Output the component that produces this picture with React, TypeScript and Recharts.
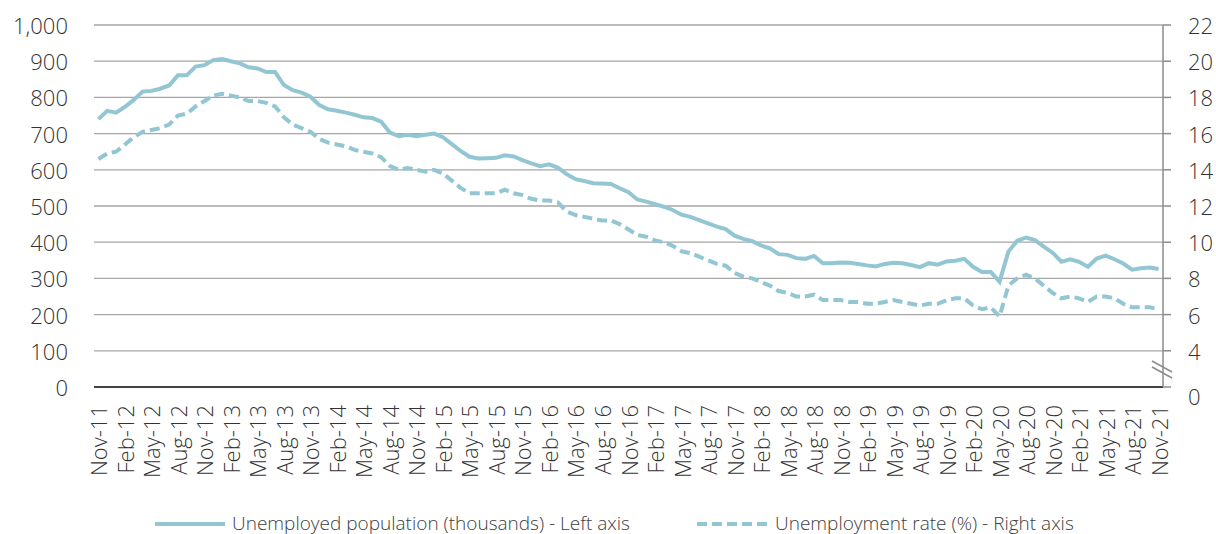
import React from "react";
import { LineChart, Line, XAxis, YAxis, CartesianGrid, Legend } from "recharts";

const MONTH_NAMES = ["Jan", "Feb", "Mar", "Apr", "May", "Jun", "Jul", "Aug", "Sep", "Oct", "Nov", "Dec"];
const START_YEAR = 2011;
const START_MONTH = 10; // Nov
const MONTH_COUNT = 121;

const CATEGORIES: string[] = Array.from({ length: MONTH_COUNT }, (_, i) => {
  const m = (START_MONTH + i) % 12;
  const y = START_YEAR + Math.floor((START_MONTH + i) / 12);
  return `${MONTH_NAMES[m]}-${String(y % 100).padStart(2, "0")}`;
});

const UNEMPLOYED_THOUSANDS: number[] = [
  740, 763, 758, 774, 793, 816, 818, 824, 833, 861,
  861, 885, 889, 903, 906, 900, 894, 883, 880, 870,
  870, 834, 820, 813, 802, 779, 767, 763, 758, 752,
  745, 743, 733, 703, 693, 697, 693, 697, 700, 690,
  671, 652, 636, 631, 632, 633, 640, 637, 627, 618,
  610, 615, 606, 588, 574, 569, 563, 562, 561, 549,
  538, 518, 512, 505, 498, 489, 476, 470, 461, 452,
  443, 436, 418, 409, 403, 391, 383, 367, 365, 356,
  354, 362, 342, 342, 344, 343, 340, 336, 333, 340,
  343, 342, 337, 331, 342, 338, 347, 349, 354, 332,
  318, 318, 291, 374, 404, 413, 406, 388, 371, 346,
  353, 346, 332, 355, 363, 353, 341, 324, 328, 330,
  326,
];

const UNEMPLOYMENT_RATE: number[] = [
  14.6, 14.9, 15.0, 15.4, 15.8, 16.1, 16.2, 16.3, 16.5, 17.0,
  17.1, 17.5, 17.8, 18.1, 18.2, 18.1, 18.0, 17.8, 17.8, 17.7,
  17.5, 16.9, 16.5, 16.3, 16.1, 15.7, 15.5, 15.4, 15.3, 15.1,
  15.0, 14.9, 14.7, 14.2, 14.0, 14.1, 14.0, 13.9, 14.0, 13.8,
  13.4, 13.0, 12.7, 12.7, 12.7, 12.7, 12.9, 12.7, 12.6, 12.4,
  12.3, 12.3, 12.2, 11.7, 11.5, 11.4, 11.3, 11.2, 11.2, 11.0,
  10.7, 10.4, 10.3, 10.1, 10.0, 9.8, 9.5, 9.4, 9.2, 9.0,
  8.8, 8.7, 8.3, 8.1, 8.0, 7.8, 7.6, 7.3, 7.2, 7.0,
  7.0, 7.1, 6.8, 6.8, 6.8, 6.7, 6.7, 6.6, 6.6, 6.7,
  6.8, 6.7, 6.6, 6.5, 6.6, 6.6, 6.8, 6.9, 6.9, 6.5,
  6.3, 6.4, 5.9, 7.6, 8.0, 8.2, 8.0, 7.6, 7.2, 6.9,
  7.0, 6.9, 6.7, 7.0, 7.0, 6.9, 6.6, 6.4, 6.4, 6.4,
  6.3,
];

const LEFT_TICKS = [0, 100, 200, 300, 400, 500, 600, 700, 800, 900, 1000];
const RIGHT_TICKS = [2, 4, 6, 8, 10, 12, 14, 16, 18, 20, 22];
const RIGHT_BREAK_VALUE = 2;
const RIGHT_BREAK_LABEL = "0";

const SERIES_NAMES = {
  pop: "Unemployed population (thousands) - Left axis",
  rate: "Unemployment rate (%) - Right axis",
};

const data = CATEGORIES.map((c, i) => ({
  month: c,
  pop: UNEMPLOYED_THOUSANDS[i],
  rate: UNEMPLOYMENT_RATE[i],
}));

const FONT = "'Open Sans', 'Noto Sans', sans-serif";
const TEXT = "#333333";
const LINE = "#93c6d3";
const GRID = "#a6a6a6";
const AXIS_FS = 22;

const XTick = (props: any) => {
  const { x, y, payload } = props;
  return (
    <text
      x={x}
      y={y + 10}
      transform={`rotate(-90 ${x} ${y + 10})`}
      textAnchor="end"
      dominantBaseline="central"
      fill={TEXT}
      fontFamily={FONT}
      fontWeight={300}
      fontSize={AXIS_FS}
    >
      {payload.value}
    </text>
  );
};

const RightTick = (props: any) => {
  const { x, y, payload } = props;
  const ax = x - 25;
  if (payload.value === RIGHT_BREAK_VALUE) {
    return (
      <g>
        <line x1={ax - 11} y1={y - 26} x2={ax + 9} y2={y - 15} stroke="#8c8c8c" strokeWidth={1.5} />
        <line x1={ax - 11} y1={y - 20} x2={ax + 9} y2={y - 9} stroke="#8c8c8c" strokeWidth={1.5} />
        <text x={x} y={y + 9} textAnchor="start" dominantBaseline="central" fill={TEXT} fontFamily={FONT} fontWeight={300} fontSize={AXIS_FS}>
          {RIGHT_BREAK_LABEL}
        </text>
      </g>
    );
  }
  return (
    <text x={x} y={y} textAnchor="start" dominantBaseline="central" fill={TEXT} fontFamily={FONT} fontWeight={300} fontSize={AXIS_FS}>
      {payload.value}
    </text>
  );
};

const LeftTick = (props: any) => {
  const { x, y, payload } = props;
  return (
    <text x={x} y={y} textAnchor="end" dominantBaseline="central" fill={TEXT} fontFamily={FONT} fontWeight={300} fontSize={AXIS_FS}>
      {Number(payload.value).toLocaleString("en-US")}
    </text>
  );
};

const LegendContent = () => (
  <div style={{ position: "relative", width: 1216, height: 26, fontFamily: FONT, fontWeight: 300, fontSize: 19, color: "#404040" }}>
    <svg style={{ position: "absolute", left: 155, top: 11 }} width={72} height={6}>
      <line x1={0} y1={3} x2={70} y2={3} stroke={LINE} strokeWidth={4} />
    </svg>
    <span style={{ position: "absolute", left: 232, top: 0, whiteSpace: "nowrap", lineHeight: "26px" }}>{SERIES_NAMES.pop}</span>
    <svg style={{ position: "absolute", left: 697, top: 11 }} width={76} height={6}>
      <line x1={0} y1={3} x2={74} y2={3} stroke={LINE} strokeWidth={4} strokeDasharray="10 5" />
    </svg>
    <span style={{ position: "absolute", left: 775, top: 0, whiteSpace: "nowrap", lineHeight: "26px" }}>{SERIES_NAMES.rate}</span>
  </div>
);

export default function App() {
  return (
    <div style={{ position: "absolute", left: 0, top: 0, width: 1216, height: 534, background: "#fff" }}>
      <LineChart width={1216} height={534} data={data} margin={{ top: 25, right: 0, bottom: 0, left: 0 }}>
        <CartesianGrid yAxisId="left" vertical={false} stroke={GRID} strokeWidth={1.3} />
        <XAxis
          dataKey="month"
          interval={2}
          height={147}
          tickLine={false}
          axisLine={{ stroke: "#1a1a1a", strokeWidth: 1.3 }}
          tick={<XTick />}
          padding={{ left: 4.4, right: 4.4 }}
        />
        <YAxis
          yAxisId="left"
          orientation="left"
          width={94}
          domain={[0, 1000]}
          ticks={LEFT_TICKS}
          axisLine={false}
          tickLine={false}
          tickSize={0}
          tickMargin={26}
          tick={<LeftTick />}
        />
        <YAxis
          yAxisId="right"
          orientation="right"
          width={53}
          domain={[2, 22]}
          ticks={RIGHT_TICKS}
          axisLine={{ stroke: "#8c8c8c", strokeWidth: 1.5 }}
          tickLine={{ stroke: "#8c8c8c", strokeWidth: 1.5 }}
          tickSize={8}
          tickMargin={17}
          tick={<RightTick />}
        />
        <Line
          yAxisId="left"
          type="linear"
          dataKey="pop"
          name={SERIES_NAMES.pop}
          stroke={LINE}
          strokeWidth={4}
          dot={false}
          isAnimationActive={false}
        />
        <Line
          yAxisId="right"
          type="linear"
          dataKey="rate"
          name={SERIES_NAMES.rate}
          stroke={LINE}
          strokeWidth={4}
          strokeDasharray="10 5"
          dot={false}
          isAnimationActive={false}
        />
        <Legend
          layout="horizontal"
          verticalAlign="middle"
          align="center"
          wrapperStyle={{ position: "absolute", top: 510, left: 0, width: 1216, height: 26 }}
          content={<LegendContent />}
        />
      </LineChart>
    </div>
  );
}
